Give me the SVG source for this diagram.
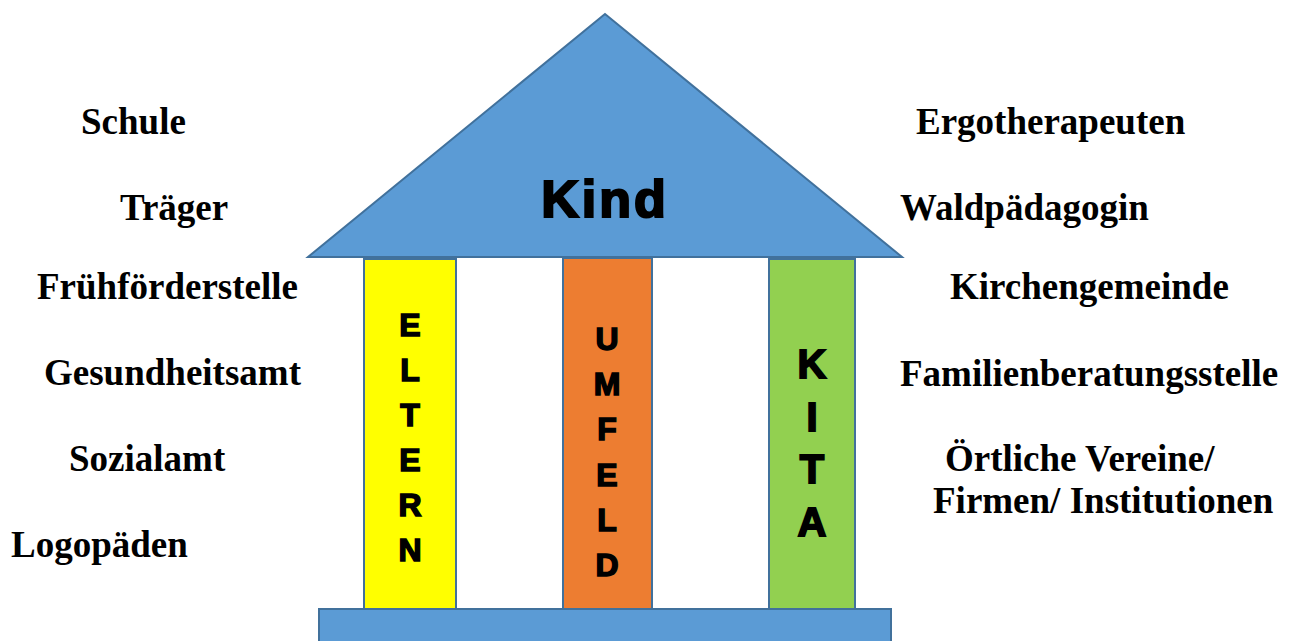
<svg xmlns="http://www.w3.org/2000/svg" width="1295" height="641" viewBox="0 0 1295 641">
<style>
.shape{stroke:#41719C;stroke-width:2}
.lbl{font-family:"Liberation Sans",Arial,sans-serif;font-family:"Liberation Serif","Times New Roman",serif;font-weight:bold;font-size:37px;fill:#000}
.pl{font-family:"Liberation Sans",Arial,sans-serif;font-weight:bold;font-size:32px;fill:#000;stroke:#000;stroke-width:1.5;text-anchor:middle}
.pk{font-size:40px;stroke-width:1.8}
</style>
<rect width="1295" height="641" fill="#fff"/>
<g id="roof">
<polygon class="shape" points="605,14 308,257 902,257" fill="#5B9BD5"/>
<text x="605" y="217" font-family="'Liberation Sans',Arial,sans-serif" font-weight="bold" font-size="52" text-anchor="middle" stroke="#000" stroke-width="2.2" letter-spacing="3">Kind</text>
</g>
<g id="pillar-eltern">
<rect class="shape" x="364" y="259" width="92" height="350" fill="#FFFF00"/>
<text class="pl" x="410" y="336">E</text>
<text class="pl" x="410" y="381">L</text>
<text class="pl" x="410" y="426">T</text>
<text class="pl" x="410" y="471">E</text>
<text class="pl" x="410" y="516">R</text>
<text class="pl" x="410" y="561">N</text>
</g>
<g id="pillar-umfeld">
<rect class="shape" x="563" y="258" width="89" height="351" fill="#ED7D31"/>
<text class="pl" x="607" y="350">U</text>
<text class="pl" x="607" y="395">M</text>
<text class="pl" x="607" y="440">F</text>
<text class="pl" x="607" y="486">E</text>
<text class="pl" x="607" y="531">L</text>
<text class="pl" x="607" y="576">D</text>
</g>
<g id="pillar-kita">
<rect class="shape" x="769" y="259" width="86" height="350" fill="#92D050"/>
<text class="pl pk" x="812" y="378">K</text>
<text class="pl pk" x="812" y="431">I</text>
<text class="pl pk" x="812" y="483">T</text>
<text class="pl pk" x="812" y="536">A</text>
</g>
<g id="base">
<rect class="shape" x="319" y="609" width="572" height="40" fill="#5B9BD5"/>
</g>
<g id="left-labels">
<text class="lbl" x="81" y="134">Schule</text>
<text class="lbl" x="120" y="220">Träger</text>
<text class="lbl" x="37" y="299">Frühförderstelle</text>
<text class="lbl" x="44" y="385">Gesundheitsamt</text>
<text class="lbl" x="69" y="471">Sozialamt</text>
<text class="lbl" x="11" y="557">Logopäden</text>
</g>
<g id="right-labels">
<text class="lbl" x="916" y="134">Ergotherapeuten</text>
<text class="lbl" x="900" y="220">Waldpädagogin</text>
<text class="lbl" x="950" y="299">Kirchengemeinde</text>
<text class="lbl" x="900" y="386">Familienberatungsstelle</text>
<text class="lbl" x="945" y="471">Örtliche Vereine/</text>
<text class="lbl" x="933" y="513">Firmen/ Institutionen</text>
</g>
<g id="connectors"></g>
</svg>
